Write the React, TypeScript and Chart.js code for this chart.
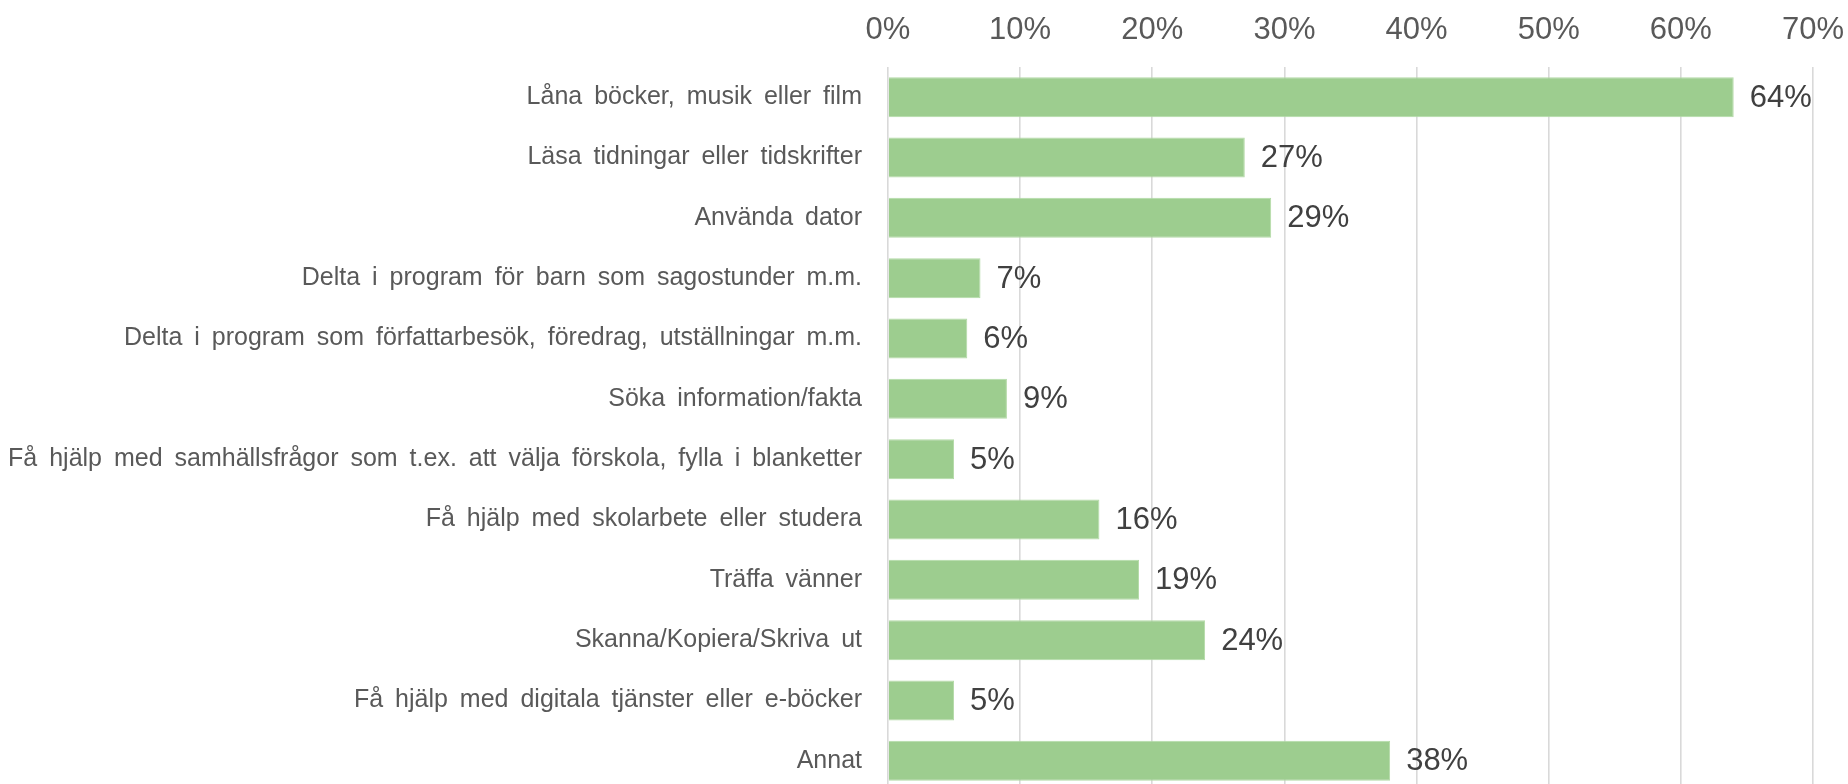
import React, { useEffect, useRef } from "react";
import { Chart, registerables } from "chart.js";

Chart.register(...registerables);

const categories = [
  "Låna böcker, musik eller film",
  "Läsa tidningar eller tidskrifter",
  "Använda dator",
  "Delta i program för barn som sagostunder m.m.",
  "Delta i program som författarbesök, föredrag, utställningar m.m.",
  "Söka information/fakta",
  "Få hjälp med samhällsfrågor som t.ex. att välja förskola, fylla i blanketter",
  "Få hjälp med skolarbete eller studera",
  "Träffa vänner",
  "Skanna/Kopiera/Skriva ut",
  "Få hjälp med digitala tjänster eller e-böcker",
  "Annat",
];

const values = [64, 27, 29, 7, 6, 9, 5, 16, 19, 24, 5, 38];

const axisMin = 0;
const axisMax = 70;
const axisStep = 10;

const FONT = '"Liberation Sans", Arial, sans-serif';

const spacingPlugin = {
  id: "spacing",
  beforeDraw(chart: any) {
    const ctx = chart.ctx as any;
    ctx.wordSpacing = "5px";
  },
};

const valueLabelPlugin = {
  id: "valueLabels",
  afterDatasetsDraw(chart: any) {
    const ctx = chart.ctx;
    const meta = chart.getDatasetMeta(0);
    ctx.save();
    ctx.font = "31px " + FONT;
    ctx.fillStyle = "#404040";
    ctx.textAlign = "left";
    ctx.textBaseline = "middle";
    meta.data.forEach((bar: any, i: number) => {
      ctx.fillText(values[i] + "%", bar.x + 16, bar.y + 1);
    });
    ctx.restore();
  },
};

export default function App() {
  const ref = useRef<HTMLCanvasElement | null>(null);

  useEffect(() => {
    document.body.style.margin = "0";
    if (!ref.current) return;
    const chart = new Chart(ref.current, {
      type: "bar",
      data: {
        labels: categories,
        datasets: [
          {
            data: values,
            backgroundColor: "#9DCD8F",
            borderColor: "#B3DAA6",
            borderWidth: 1,
            categoryPercentage: 1,
            barPercentage: 0.663,
          },
        ],
      },
      options: {
        indexAxis: "y",
        responsive: false,
        animation: false,
        maintainAspectRatio: false,
        layout: { padding: { left: 0, right: 35, top: 0, bottom: 1 } },
        plugins: {
          legend: { display: false },
          tooltip: { enabled: false },
        },
        scales: {
          x: {
            position: "top",
            min: axisMin,
            max: axisMax,
            ticks: {
              stepSize: axisStep,
              color: "#595959",
              font: { family: FONT, size: 31 },
              padding: 18,
              maxRotation: 0,
              callback: (v: any) => v + "%",
            },
            grid: {
              color: "#D9D9D9",
              lineWidth: 1.6,
              drawTicks: false,
            },
            border: { display: false },
            afterFit: (scale: any) => {
              scale.height = 67;
              scale.paddingLeft = 0;
              scale.paddingRight = 0;
            },
          },
          y: {
            ticks: {
              color: "#595959",
              font: { family: FONT, size: 25 },
              padding: 26,
              autoSkip: false,
            },
            grid: { display: false, drawTicks: false },
            border: { display: false },
            afterFit: (scale: any) => {
              scale.width = 888;
              scale.paddingTop = 0;
              scale.paddingBottom = 0;
            },
          },
        },
      },
      plugins: [spacingPlugin, valueLabelPlugin],
    });
    return () => chart.destroy();
  }, []);

  return (
    <div style={{ position: "absolute", left: 0, top: 0, width: 1848, height: 792 }}>
      <canvas ref={ref} width={1848} height={792} />
    </div>
  );
}
